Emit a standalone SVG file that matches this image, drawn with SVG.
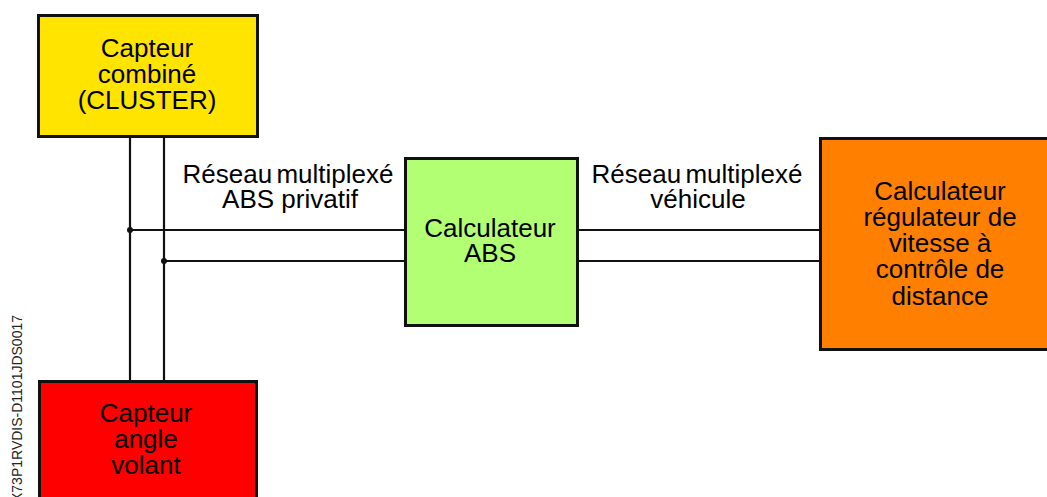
<svg xmlns="http://www.w3.org/2000/svg" width="1047" height="497" viewBox="0 0 1047 497">
<style>
.box{stroke:#111;stroke-width:3}
.t{font-family:"Liberation Sans",Arial,sans-serif;font-size:26px;fill:#000;text-anchor:middle}
.w{stroke:#111;stroke-width:2.2;fill:none}
.ref{font-family:"Liberation Sans",Arial,sans-serif;font-size:14px;fill:#222;text-anchor:end}
</style>
<rect width="1047" height="497" fill="#fff"/>
<g id="connectors">
<line class="w" x1="130" y1="137" x2="130" y2="381"/>
<line class="w" x1="164" y1="137" x2="164" y2="381"/>
<line class="w" x1="130" y1="230" x2="405" y2="230"/>
<line class="w" x1="164" y1="261" x2="405" y2="261"/>
<line class="w" x1="578" y1="230" x2="820" y2="230"/>
<line class="w" x1="578" y1="261" x2="820" y2="261"/>
<circle cx="130" cy="230" r="3" fill="#111"/>
<circle cx="164" cy="261" r="3" fill="#111"/>
<text class="t" x="288" y="183" word-spacing="-3">Réseau multiplexé</text>
<text class="t" x="290" y="208">ABS privatif</text>
<text class="t" x="697" y="183" word-spacing="-3">Réseau multiplexé</text>
<text class="t" x="698" y="208">véhicule</text>
</g>
<g id="cluster">
<rect class="box" x="38.5" y="15.5" width="219" height="121" fill="#FFE400"/>
<text class="t" x="147" y="57">Capteur</text>
<text class="t" x="147" y="83">combiné</text>
<text class="t" x="147" y="109">(CLUSTER)</text>
</g>
<g id="angle">
<rect class="box" x="39.5" y="381.5" width="217" height="130" fill="#FF0000"/>
<text class="t" x="146" y="422">Capteur</text>
<text class="t" x="146" y="448">angle</text>
<text class="t" x="146" y="474">volant</text>
</g>
<g id="abs">
<rect class="box" x="405.5" y="158.5" width="172" height="167" fill="#B3FF73"/>
<text class="t" x="490" y="237">Calculateur</text>
<text class="t" x="490" y="262">ABS</text>
</g>
<g id="regulateur">
<rect class="box" x="820.5" y="138.5" width="240" height="211" fill="#FF8000"/>
<text class="t" x="940" y="200">Calculateur</text>
<text class="t" x="940" y="226">régulateur de</text>
<text class="t" x="940" y="252">vitesse à</text>
<text class="t" x="940" y="278">contrôle de</text>
<text class="t" x="940" y="305">distance</text>
</g>
<text class="ref" transform="translate(22,315) rotate(-90)" textLength="187" lengthAdjust="spacingAndGlyphs">X73P1RVDIS-D1101JDS0017</text>
</svg>
